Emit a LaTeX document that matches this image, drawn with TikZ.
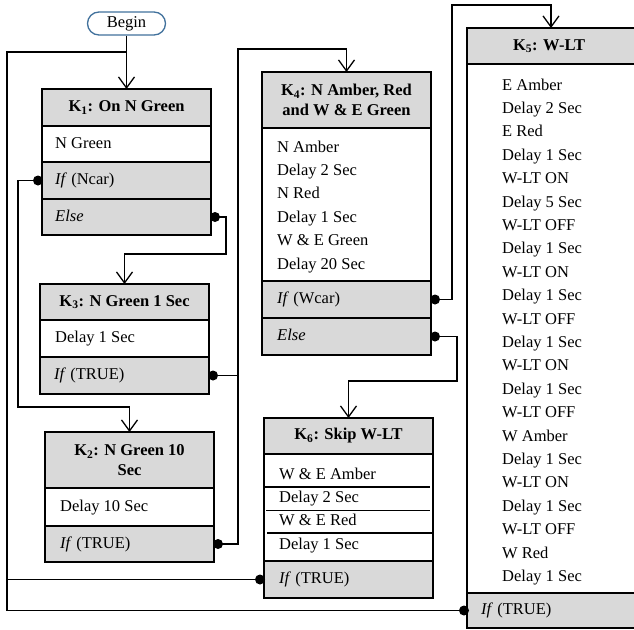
\documentclass[tikz,border=0pt]{standalone}
\usepackage{fontspec}
\setmainfont{Liberation Serif}
\usetikzlibrary{arrows.meta}
\definecolor{boxgrey}{HTML}{D9D9D9}
\definecolor{beginblue}{HTML}{41719C}
\begin{document}
\begin{tikzpicture}[x=1pt,y=-1pt,
  font=\fontsize{16.5}{20}\selectfont,
  boxrow/.style={draw=black, line width=1.5pt, inner sep=0pt, outer sep=0pt, minimum width=169pt},
  greyrow/.style={boxrow, fill=boxgrey},
  whiterow/.style={boxrow, fill=white},
  hd/.style={greyrow, font=\fontsize{16.5}{20}\selectfont\bfseries, align=center},
  txt/.style={anchor=west, inner sep=0pt, text height=11.5pt, text depth=3.5pt},
  conn/.style={line width=1.3pt},
  arr/.style={conn, -{Straight Barb[length=11pt,width=16pt]}},
  dot/.style={circle, fill=black, inner sep=0pt, minimum size=10pt},
  sepline/.style={line width=1.3pt},
  beginnode/.style={draw=beginblue, line width=1.3pt, rounded corners=11.5pt, minimum width=78pt, minimum height=23pt, inner sep=0pt, fill=white}
]
\useasboundingbox (0,0) rectangle (634,629);

% Begin
\node[beginnode] (begin) at (126.5,23.5) {Begin};

% K1
\node[hd, minimum height=37pt] (k1h) at (126.5,107.5) {K\textsubscript{1}: On N Green};
\node[whiterow, minimum height=36pt] (k1r) at (126.5,144) {};
\node[greyrow, minimum height=37pt] (k1if) at (126.5,180.5) {};
\node[greyrow, minimum height=36pt] (k1else) at (126.5,217) {};
\node[txt] (t1a) at (55,144) {N Green};
\node[txt] (t1b) at (55,180.5) {\textit{If} (Ncar)};
\node[txt] (t1c) at (55,217) {\textit{Else}};

% K3
\node[hd, minimum height=36pt] (k3h) at (124.5,302) {K\textsubscript{3}: N Green 1 Sec};
\node[whiterow, minimum height=37pt] (k3r) at (124.5,338.5) {};
\node[greyrow, minimum height=37pt] (k3if) at (124.5,375.5) {};
\node[txt] (t3a) at (55,338.5) {Delay 1 Sec};
\node[txt] (t3b) at (54,375.5) {\textit{If} (TRUE)};

% K2
\node[hd, minimum height=56pt] (k2h) at (129.5,460) {K\textsubscript{2}: N Green 10\\Sec};
\node[whiterow, minimum height=38pt] (k2r) at (129.5,507) {};
\node[greyrow, minimum height=36pt] (k2if) at (129.5,544) {};
\node[txt] (t2a) at (60,507) {Delay 10 Sec};
\node[txt] (t2b) at (60,544) {\textit{If} (TRUE)};

% K4
\node[hd, minimum height=56pt] (k4h) at (346.5,100) {K\textsubscript{4}: N Amber, Red\\and W \& E Green};
\node[whiterow, minimum height=153pt] (k4r) at (346.5,204.5) {};
\node[greyrow, minimum height=37pt] (k4if) at (346.5,299.5) {};
\node[greyrow, minimum height=37pt] (k4else) at (346.5,336.5) {};
\node[txt] (t4a) at (277,148) {N Amber};
\node[txt] (t4b) at (277,171.4) {Delay 2 Sec};
\node[txt] (t4c) at (277,194.8) {N Red};
\node[txt] (t4d) at (277,218.2) {Delay 1 Sec};
\node[txt] (t4e) at (277,241.6) {W \& E Green};
\node[txt] (t4f) at (277,265) {Delay 20 Sec};
\node[txt] (t4g) at (277,299.5) {\textit{If} (Wcar)};
\node[txt] (t4h) at (277,336.5) {\textit{Else}};

% K6
\node[hd, minimum height=36pt] (k6h) at (348.5,436) {K\textsubscript{6}: Skip W-LT};
\node[whiterow, minimum height=107pt] (k6r) at (348.5,507.5) {};
\node[greyrow, minimum height=37pt] (k6if) at (348.5,579.5) {};
\draw[sepline] (265,487) -- (430,487);
\draw[sepline] (266,510.5) -- (430,510.5);
\draw[sepline] (267,533) -- (433,533);
\node[txt] (t6a) at (279,475) {W \& E Amber};
\node[txt] (t6b) at (279,498.4) {Delay 2 Sec};
\node[txt] (t6c) at (279,521.8) {W \& E Red};
\node[txt] (t6d) at (279,545.2) {Delay 1 Sec};
\node[txt] (t6e) at (279,579.5) {\textit{If} (TRUE)};

% K5
\node[greyrow, minimum width=168pt, minimum height=36pt] (k5h) at (551,46) {};
\node[font=\fontsize{16.5}{20}\selectfont\bfseries, inner sep=0pt] (k5title) at (549,46) {K\textsubscript{5}: W-LT};
\node[whiterow, minimum width=168pt, minimum height=529pt] (k5r) at (551,328.5) {};
\node[greyrow, minimum width=168pt, minimum height=35pt] (k5if) at (551,610.5) {};
\foreach \t [count=\i from 0] in {E Amber, Delay 2 Sec, E Red, Delay 1 Sec, W-LT ON, Delay 5 Sec, W-LT OFF, Delay 1 Sec, W-LT ON, Delay 1 Sec, W-LT OFF, Delay 1 Sec, W-LT ON, Delay 1 Sec, W-LT OFF, W Amber, Delay 1 Sec, W-LT ON, Delay 1 Sec, W-LT OFF, W Red, Delay 1 Sec}
  \node[txt] (t5l\i) at (502,86+23.4*\i) {\t};
\node[txt] (t5if) at (481,610.5) {\textit{If} (TRUE)};

% dots
\node[dot] (d1) at ([xshift=-4pt]k1if.west) {};
\node[dot] (d2) at ([xshift=4pt]k1else.east) {};
\node[dot] (d3) at ([xshift=4pt]k3if.east) {};
\node[dot] (d4) at ([xshift=4pt]k2if.east) {};
\node[dot] (d5) at ([xshift=4pt]k4if.east) {};
\node[dot] (d6) at ([xshift=4pt]k4else.east) {};
\node[dot] (d7) at ([xshift=-4pt]k6if.west) {};
\node[dot] (d8) at ([xshift=-3pt]k5if.west) {};

% connectors
\draw[arr] (begin.south) -- (k1h.north);
\draw[arr] (d1.center) -| (18,407) -| (k2h.north);
\draw[arr] (d2.center) -| (226,254) -| (k3h.north);
\draw[arr] (d3.center) -| (238,49) -| (k4h.north);
\draw[conn] (d4.center) -| (238,366);
\draw[arr] (d5.center) -| (452,5) -| (k5h.north);
\draw[arr] (d6.center) -| (457,381) -| (k6h.north);
\draw[conn] (d7.center) -- (7,579.5);
\draw[conn] (d8.center) -| (7,52) -- (126.5,52);
\end{tikzpicture}
\end{document}
